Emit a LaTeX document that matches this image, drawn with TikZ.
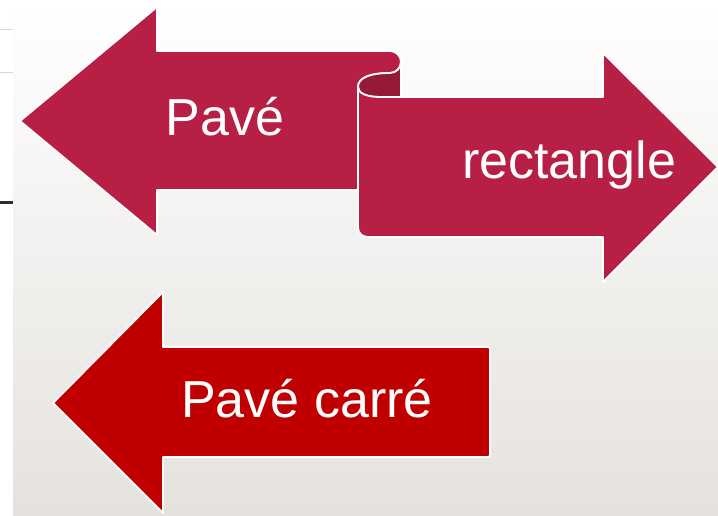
\documentclass[tikz,border=0pt]{standalone}
\usepackage{fontspec}
\setmainfont{Liberation Sans}
\usepackage{tikz}
\definecolor{cramoisi}{HTML}{B81F44}
\definecolor{replis}{HTML}{951A38}
\definecolor{rouge}{HTML}{C00000}
\definecolor{fondbas}{HTML}{E5E2DE}
\definecolor{trait}{HTML}{D6D6D6}
\definecolor{encre}{HTML}{2E2E2E}
\tikzset{
  fleche/.style={fill=#1,draw=white,line width=1.8pt,line join=round},
  texte/.style={text=white,font=\fontsize{52}{62}\selectfont,anchor=base,inner sep=0pt},
}

\begin{document}
\begin{tikzpicture}[x=1pt,y=-1pt]
  \useasboundingbox (0,0) rectangle (718,515);
  \fill[white] (0,0) rectangle (13,515);
  \shade[top color=white,bottom color=fondbas] (13,0) rectangle (718,515);
  \draw[trait,line width=1pt] (0,29) -- (13,29);
  \draw[trait,line width=1pt] (0,72) -- (13,72);
  \draw[encre,line width=3pt] (0,202) -- (12.5,202);
  \draw[fleche=cramoisi] (20,121) -- (157,7) -- (157,51) -- (390,51)
    .. controls (396,51) and (401,56) .. (401,62)
    .. controls (401,68) and (396,73) .. (390,73)
    .. controls (372,73) and (358,77) .. (358,87)
    -- (358,190) -- (157,190) -- (157,235) -- cycle;
  \draw[fleche=replis] (390,73) .. controls (396,73) and (401,68) .. (401,62)
    -- (401,97) -- (380,97) .. controls (366,97) and (358,93) .. (358,87)
    .. controls (358,77) and (372,73) .. (390,73) -- cycle;
  \draw[fleche=cramoisi] (358,87) .. controls (358,93) and (366,97) .. (380,97)
    -- (603,97) -- (603,53) -- (718,167) -- (603,282) -- (603,237) -- (368,237)
    .. controls (362,237) and (358,233) .. (358,227) -- cycle;
  \draw[fleche=rouge] (53,403) -- (163,292) -- (163,347)
    {[rounded corners=2pt] -- (490,347) -- (490,457)} -- (163,457) -- (163,513) -- cycle;
  \node[texte] (pave) at (225,135) {Pavé};
  \node[texte] (rect) at (569,178) {rectangle};
  \node[texte] (carre) at (307,417) {Pavé carré};
\end{tikzpicture}
\end{document}
